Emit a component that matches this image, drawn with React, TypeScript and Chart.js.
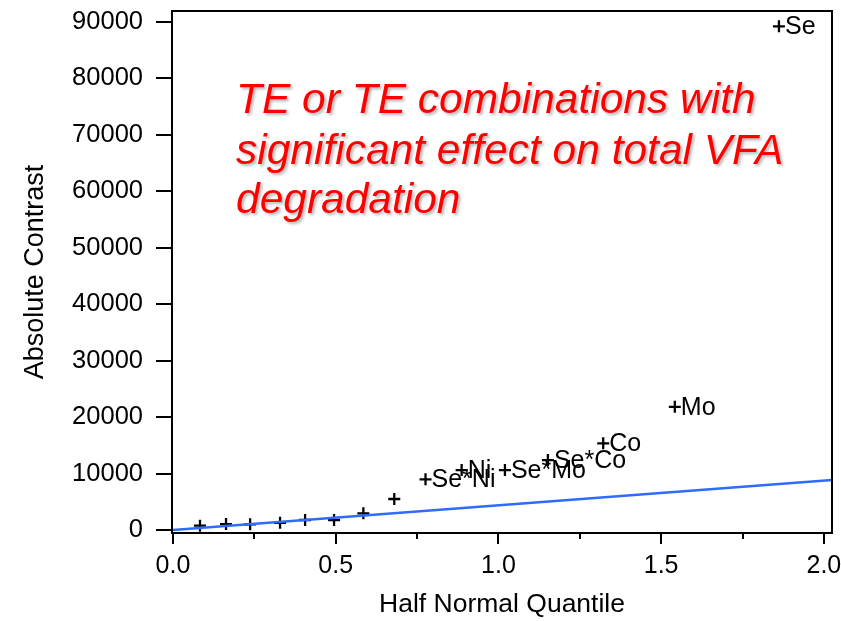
import React, { useEffect, useRef } from 'react';
import { Chart, registerables } from 'chart.js';

Chart.register(...registerables);

const effectNames = ['', '', '', '', '', '', '', '', 'Se*Ni', 'Ni', 'Se*Mo', 'Se*Co', 'Co', 'Mo', 'Se'];
const halfNormalQuantile = [0.083, 0.163, 0.237, 0.329, 0.406, 0.495, 0.585, 0.68, 0.776, 0.887, 1.02, 1.152, 1.322, 1.542, 1.862];
const absoluteContrast = [760, 1060, 1010, 1290, 1770, 1770, 2960, 5490, 8980, 10620, 10620, 12390, 15350, 21830, 89240];
const refLineX = [0, 2.025];
const refLineY = [0, 8860];
const xTickValues = [0, 0.5, 1.0, 1.5, 2.0];
const minorXTicks = [0.25, 0.75, 1.25, 1.75];
const yTickValues = [0, 10000, 20000, 30000, 40000, 50000, 60000, 70000, 80000, 90000];
const annotationLines = ['TE or TE combinations with', 'significant effect on total VFA', 'degradation'];

const FONT = '"Liberation Sans", Arial, Helvetica, sans-serif';

const labelPlugin = {
  id: 'pointLabels',
  afterDatasetsDraw(chart: any) {
    const meta = chart.getDatasetMeta(1);
    const ctx = chart.ctx;
    ctx.save();
    ctx.font = `25px ${FONT}`;
    ctx.fillStyle = '#000';
    ctx.textAlign = 'left';
    ctx.textBaseline = 'middle';
    meta.data.forEach((el: any, i: number) => {
      const name = effectNames[i];
      if (name) ctx.fillText(name, el.x + 6, el.y + 1);
    });
    ctx.restore();
  },
};

const framePlugin = {
  id: 'frame',
  afterDraw(chart: any) {
    const { ctx, chartArea } = chart;
    const xs = chart.scales.x;
    ctx.save();
    ctx.strokeStyle = '#000';
    ctx.lineWidth = 2;
    ctx.strokeRect(chartArea.left, chartArea.top, chartArea.right - chartArea.left, chartArea.bottom - chartArea.top);
    ctx.beginPath();
    minorXTicks.forEach((v) => {
      const px = Math.round(xs.getPixelForValue(v));
      ctx.moveTo(px, chartArea.bottom);
      ctx.lineTo(px, chartArea.bottom + 6);
    });
    ctx.stroke();
    ctx.font = `italic 42.5px ${FONT}`;
    ctx.fillStyle = '#FF0000';
    ctx.textAlign = 'left';
    ctx.textBaseline = 'alphabetic';
    ctx.shadowColor = 'rgba(0,0,0,0.3)';
    ctx.shadowOffsetX = 2;
    ctx.shadowOffsetY = 2;
    ctx.shadowBlur = 3;
    const baselines = [113, 164, 213];
    annotationLines.forEach((t, i) => ctx.fillText(t, 236, baselines[i]));
    ctx.restore();
  },
};

const zeroPadding = (s: any) => {
  s.paddingTop = 0;
  s.paddingBottom = 0;
  s.paddingLeft = 0;
  s.paddingRight = 0;
};

export default function App() {
  const ref = useRef<HTMLCanvasElement | null>(null);
  useEffect(() => {
    if (!ref.current) return;
    const chart = new Chart(ref.current, {
      type: 'scatter',
      data: {
        datasets: [
          {
            type: 'line',
            data: refLineX.map((x, i) => ({ x, y: refLineY[i] })),
            borderColor: '#2F6BFF',
            borderWidth: 2.5,
            pointRadius: 0,
            fill: false,
          },
          {
            data: halfNormalQuantile.map((x, i) => ({ x, y: absoluteContrast[i] })),
            pointStyle: 'cross',
            pointRadius: 6,
            borderColor: '#000',
            backgroundColor: '#000',
            borderWidth: 2.3,
          },
        ],
      } as any,
      options: {
        animation: false,
        responsive: false,
        events: [],
        layout: { padding: { left: 0, right: 9, top: 11, bottom: 0 } },
        plugins: { legend: { display: false }, tooltip: { enabled: false } },
        scales: {
          x: {
            type: 'linear',
            min: -0.003,
            max: 2.025,
            afterFit: (s: any) => { s.height = 88; zeroPadding(s); },
            afterBuildTicks: (s: any) => { s.ticks = xTickValues.map((value) => ({ value })); },
            ticks: {
              padding: 7,
              color: '#000',
              font: { family: FONT, size: 25 },
              callback: (v: any) => Number(v).toFixed(1),
            },
            grid: { display: true, drawOnChartArea: false, drawTicks: true, tickLength: 11, color: '#000', lineWidth: 2 },
            border: { display: false },
            title: {
              display: true,
              text: 'Half Normal Quantile',
              color: '#000',
              font: { family: FONT, size: 26.5 },
              padding: { top: 0, bottom: 0 },
            },
          },
          y: {
            type: 'linear',
            min: -530,
            max: 91950,
            afterFit: (s: any) => { s.width = 172; zeroPadding(s); },
            afterBuildTicks: (s: any) => { s.ticks = yTickValues.map((value) => ({ value })); },
            ticks: {
              padding: 13,
              color: '#000',
              font: { family: FONT, size: 25.5 },
              callback: (v: any) => String(v),
            },
            grid: { display: true, drawOnChartArea: false, drawTicks: true, tickLength: 16, color: '#000', lineWidth: 2 },
            border: { display: false },
            title: {
              display: true,
              text: 'Absolute Contrast',
              color: '#000',
              font: { family: FONT, size: 27 },
              padding: { top: 19, bottom: 0 },
            },
          },
        },
      } as any,
      plugins: [labelPlugin, framePlugin],
    });
    return () => chart.destroy();
  }, []);
  return (
    <div style={{ position: 'fixed', left: 0, top: 0, width: 841, height: 621, background: '#fff' }}>
      <canvas ref={ref} width={841} height={621} style={{ width: 841, height: 621, display: 'block' }} />
    </div>
  );
}
